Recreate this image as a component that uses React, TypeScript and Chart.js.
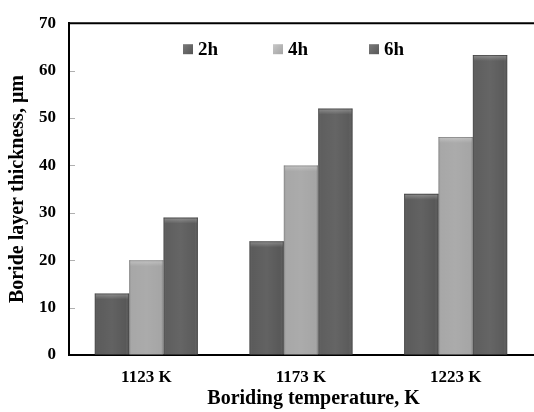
import React, { useEffect, useRef } from "react";
import { Chart, registerables } from "chart.js";

Chart.register(...registerables);

const categories = ["1123 K", "1173 K", "1223 K"];
const seriesLabels = ["2h", "4h", "6h"];
const values2h = [13, 24, 34];
const values4h = [20, 40, 46];
const values6h = [29, 52, 63.3];
const seriesColors = ["#555555", "#a4a4a4", "#585858"];
const yMin = 0;
const yMax = 70;
const yStep = 10;

const FONT = "'Liberation Serif', 'Times New Roman', serif";

const barShade = {
  id: "barShade",
  afterDatasetsDraw(chart: any) {
    const ctx = chart.ctx;
    chart.data.datasets.forEach((_: any, di: number) => {
      const meta = chart.getDatasetMeta(di);
      meta.data.forEach((el: any) => {
        const { x, y, base, width } = el.getProps(["x", "y", "base", "width"], true);
        const left = x - width / 2;
        const h = base - y;
        ctx.save();
        const g = ctx.createLinearGradient(left, 0, left + width, 0);
        g.addColorStop(0, "rgba(0,0,0,0.22)");
        g.addColorStop(0.08, "rgba(255,255,255,0.04)");
        g.addColorStop(0.5, "rgba(255,255,255,0.08)");
        g.addColorStop(0.9, "rgba(255,255,255,0.02)");
        g.addColorStop(1, "rgba(0,0,0,0.25)");
        ctx.fillStyle = g;
        ctx.fillRect(left, y, width, h);
        const gv = ctx.createLinearGradient(0, y, 0, y + 6);
        gv.addColorStop(0, "rgba(255,255,255,0.3)");
        gv.addColorStop(1, "rgba(255,255,255,0)");
        ctx.fillStyle = gv;
        ctx.fillRect(left + 1, y + 1, width - 2, 6);
        ctx.fillStyle = "rgba(0,0,0,0.15)";
        ctx.fillRect(left, y, width, 1);
        ctx.restore();
      });
    });
  },
};

const frame = {
  id: "frame",
  afterDraw(chart: any) {
    const ctx = chart.ctx;
    const { left, right, top } = chart.chartArea;
    const ys = chart.scales.y;
    ctx.save();
    ctx.strokeStyle = "#000";
    ctx.lineWidth = 2;
    ctx.beginPath();
    ctx.moveTo(left - 1, top);
    ctx.lineTo(right + 1, top);
    ctx.stroke();
    ctx.strokeStyle = "#b0b0b0";
    ctx.lineWidth = 1;
    ys.ticks.forEach((t: any) => {
      const py = Math.round(ys.getPixelForValue(t.value)) + 0.5;
      if (t.value === yMin || t.value === yMax) return;
      ctx.beginPath();
      ctx.moveTo(left + 1, py);
      ctx.lineTo(left + 6, py);
      ctx.stroke();
    });
    ctx.restore();
  },
};

const legendOffsets = [114, 204, 300];

const innerLegend = {
  id: "innerLegend",
  afterDraw(chart: any) {
    const ctx = chart.ctx;
    const { left, top } = chart.chartArea;
    ctx.save();
    ctx.font = `bold 19px ${FONT}`;
    ctx.textBaseline = "middle";
    ctx.textAlign = "left";
    chart.data.datasets.forEach((ds: any, i: number) => {
      const bx = left + legendOffsets[i];
      const cy = top + 26;
      const g = ctx.createLinearGradient(bx, cy - 5, bx + 10, cy + 5);
      g.addColorStop(0, i === 1 ? "#c8c8c8" : "#7a7a7a");
      g.addColorStop(1, ds.backgroundColor);
      ctx.fillStyle = g;
      ctx.fillRect(bx, cy - 5, 10, 10);
      ctx.fillStyle = "#000";
      ctx.fillText(ds.label, bx + 15, cy + 1);
    });
    ctx.restore();
  },
};

export default function App() {
  const ref = useRef<HTMLCanvasElement | null>(null);
  useEffect(() => {
    document.body.style.margin = "0";
    if (!ref.current) return;
    const data = [values2h, values4h, values6h];
    const chart = new Chart(ref.current, {
      type: "bar",
      data: {
        labels: categories,
        datasets: seriesLabels.map((label, i) => ({
          label,
          data: data[i],
          backgroundColor: seriesColors[i],
          borderWidth: 0,
          categoryPercentage: 0.667,
          barPercentage: 1.0,
        })),
      },
      options: {
        animation: false,
        responsive: false,
        layout: { padding: { top: 15, right: 1, left: 0, bottom: 0 } },
        plugins: {
          legend: { display: false },
          tooltip: { enabled: false },
        },
        scales: {
          x: {
            z: 1,
            grid: { display: false, drawTicks: false },
            border: { display: true, color: "#000", width: 2 },
            ticks: {
              color: "#000",
              font: { family: FONT, size: 17, weight: "bold" },
              padding: 12,
            },
            title: {
              display: true,
              text: "     Boriding temperature, K",
              color: "#000",
              font: { family: FONT, size: 20, weight: "bold" },
              padding: { top: 0, bottom: 1 },
            },
            afterFit: (s: any) => {
              s.height = 57;
            },
          },
          y: {
            z: 1,
            min: yMin,
            max: yMax,
            grid: { display: true, drawOnChartArea: false, drawTicks: false },
            border: { display: true, color: "#000", width: 2 },
            ticks: {
              stepSize: yStep,
              color: "#000",
              font: { family: FONT, size: 17, weight: "bold" },
              padding: 13,
            },
            title: {
              display: true,
              text: "Boride layer thickness, μm",
              color: "#000",
              font: { family: FONT, size: 20, weight: "bold" },
              padding: { top: 6, bottom: 0 },
            },
            afterFit: (s: any) => {
              s.width = 69;
            },
          },
        },
      } as any,
      plugins: [barShade, frame, innerLegend],
    });
    return () => chart.destroy();
  }, []);
  return (
    <div style={{ width: 534, height: 412 }}>
      <canvas ref={ref} width={534} height={412} />
    </div>
  );
}
